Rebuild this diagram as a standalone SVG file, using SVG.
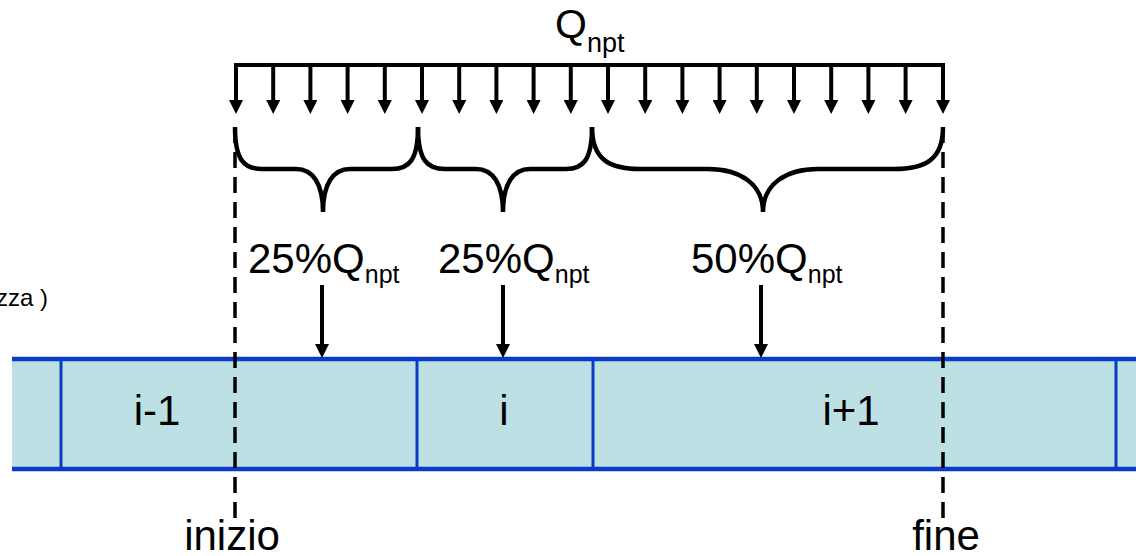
<svg xmlns="http://www.w3.org/2000/svg" width="1136" height="556" viewBox="0 0 1136 556">
<style>
text{font-family:"Liberation Sans",Arial,sans-serif;fill:#000}
.big{font-size:42px}
.sub{font-size:25px}
.shaft{stroke:#000;stroke-width:4;fill:none}
.brace{stroke:#000;stroke-width:4.5;fill:none}
.dash{stroke:#000;stroke-width:3.5;stroke-dasharray:16 9;fill:none}
.cell{fill:#bce0e4}
.edge{stroke:#0a3cc8;stroke-width:4.5;fill:none}
.div{stroke:#0a3cc8;stroke-width:3;fill:none}
</style>
<defs>
<marker id="ah" markerUnits="userSpaceOnUse" markerWidth="14" markerHeight="14" viewBox="0 0 14 14" refX="0" refY="7" orient="auto">
<path d="M0,0 L14,7 L0,14 z" fill="#000"/>
</marker>
</defs>
<g id="strip">
<rect class="cell" x="12" y="359" width="1124" height="110"/>
<line class="edge" x1="12" y1="359" x2="1136" y2="359"/>
<line class="edge" x1="12" y1="469" x2="1136" y2="469"/>
<line class="div" x1="61" y1="359" x2="61" y2="469"/>
<line class="div" x1="417" y1="359" x2="417" y2="469"/>
<line class="div" x1="593" y1="359" x2="593" y2="469"/>
<line class="div" x1="1116" y1="359" x2="1116" y2="469"/>
</g>
<g id="cell-im1"><text class="big" x="157" y="425" text-anchor="middle">i-1</text></g>
<g id="cell-i"><text class="big" x="504" y="425" text-anchor="middle">i</text></g>
<g id="cell-ip1"><text class="big" x="851" y="425" text-anchor="middle">i+1</text></g>
<g id="load">
<text x="555" y="38" style="font-size:41px">Q<tspan x="587" y="52" style="font-size:27px">npt</tspan></text>
</g>
<g id="side-label"><text x="48" y="306" text-anchor="end" style="font-size:24px">zza )</text></g>
<g id="label-25a"><text class="big" x="248" y="273">25%Q<tspan class="sub" dy="10">npt</tspan></text></g>
<g id="label-25b"><text class="big" x="438" y="273">25%Q<tspan class="sub" dy="10">npt</tspan></text></g>
<g id="label-50"><text class="big" x="691" y="273">50%Q<tspan class="sub" dy="10">npt</tspan></text></g>
<g id="inizio"><text class="big" x="232" y="550" text-anchor="middle">inizio</text></g>
<g id="fine"><text class="big" x="946" y="550" text-anchor="middle">fine</text></g>
<g id="braces">
<path class="brace" d="M235,127 C235,160 244,169 262,169 L296,169 C313,169 323,184 323,212 C323,184 333,169 350,169 L392,169 C409,169 418,160 418,127"/>
<path class="brace" d="M418,127 C418,160 427,169 445,169 L476,169 C493,169 503,184 503,212 C503,184 513,169 530,169 L566,169 C583,169 592,160 592,127"/>
<path class="brace" d="M592,127 C592,160 610,169 640,169 L708,169 C740,169 763,184 763,212 C763,184 786,169 818,169 L894,169 C925,169 943,160 943,127"/>
</g>
<g id="connectors">
<line class="dash" x1="235" y1="127" x2="235" y2="518"/>
<line class="dash" x1="943" y1="127" x2="943" y2="518"/>
<path class="shaft" d="M236,100 V65 H943 V100"/>
<g marker-end="url(#ah)" class="shaft">
<line x1="236" y1="65" x2="236" y2="100"/>
<line x1="273.2" y1="65" x2="273.2" y2="100"/>
<line x1="310.4" y1="65" x2="310.4" y2="100"/>
<line x1="347.6" y1="65" x2="347.6" y2="100"/>
<line x1="384.8" y1="65" x2="384.8" y2="100"/>
<line x1="422" y1="65" x2="422" y2="100"/>
<line x1="459.2" y1="65" x2="459.2" y2="100"/>
<line x1="496.4" y1="65" x2="496.4" y2="100"/>
<line x1="533.6" y1="65" x2="533.6" y2="100"/>
<line x1="570.8" y1="65" x2="570.8" y2="100"/>
<line x1="608" y1="65" x2="608" y2="100"/>
<line x1="645.2" y1="65" x2="645.2" y2="100"/>
<line x1="682.4" y1="65" x2="682.4" y2="100"/>
<line x1="719.6" y1="65" x2="719.6" y2="100"/>
<line x1="756.8" y1="65" x2="756.8" y2="100"/>
<line x1="794" y1="65" x2="794" y2="100"/>
<line x1="831.2" y1="65" x2="831.2" y2="100"/>
<line x1="868.4" y1="65" x2="868.4" y2="100"/>
<line x1="905.6" y1="65" x2="905.6" y2="100"/>
<line x1="943" y1="65" x2="943" y2="100"/>
<line x1="322" y1="285" x2="322" y2="344"/>
<line x1="503" y1="285" x2="503" y2="344"/>
<line x1="761" y1="285" x2="761" y2="344"/>
</g>
</g>
</svg>
